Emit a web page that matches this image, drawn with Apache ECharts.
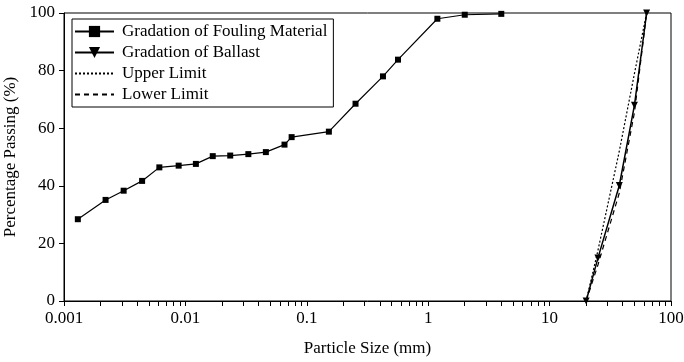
<!DOCTYPE html>
<html>
<head>
<meta charset="utf-8">
<script src="https://cdn.jsdelivr.net/npm/echarts@6/dist/echarts.min.js"></script>
<style>
  html, body { margin: 0; padding: 0; background: #fff; }
  #chart { width: 684px; height: 362px; }
</style>
</head>
<body>
<div id="chart"></div>
<script>
// gradation of fouling material (size in mm, % passing)
const foulingSize = [0.0013, 0.0022, 0.0031, 0.0044, 0.0061, 0.0088, 0.0122, 0.0168, 0.0234, 0.033, 0.046, 0.0655, 0.075, 0.152, 0.252, 0.424, 0.564, 1.19, 2.0, 4.0];
const foulingPass = [28.4, 35.1, 38.3, 41.7, 46.4, 47.0, 47.6, 50.3, 50.5, 51.0, 51.7, 54.3, 56.9, 58.8, 68.5, 78.0, 83.8, 98.0, 99.4, 99.7];

// gradation of ballast
const ballastSize = [20, 25, 37.5, 50, 63];
const ballastPass = [0, 14.9, 40.1, 68.0, 100];

// limits
const upperSize = [20, 25, 37.5, 50, 63];
const upperPass = [0, 17.5, 52, 79, 100];
const lowerSize = [20, 25, 37.5, 50, 63];
const lowerPass = [0, 12.5, 37.5, 65.5, 100];

const xMajorTicks = [0.001, 0.01, 0.1, 1, 10, 100];
const xTickLabels = ['0.001', '0.01', '0.1', '1', '10', '100'];
const yTicks = [0, 20, 40, 60, 80, 100];

// minor ticks of the log axis: 2..9 in each decade
const minorSteps = [2, 3, 4, 5, 6, 7, 8, 9];
const minorTicks = [];
xMajorTicks.slice(0, -1).forEach(d => minorSteps.forEach(s => minorTicks.push(+(d * s).toPrecision(3))));

const pairs = (xs, ys) => xs.map((x, i) => [x, ys[i]]);

const font = "'Liberation Serif', 'Times New Roman', serif";
const black = '#000';

const chart = echarts.init(document.getElementById('chart'));

const option = {
  animation: false,
  textStyle: { fontFamily: font, color: black },
  grid: {
    left: 64, right: 13, top: 13, bottom: 61,
    outerBoundsMode: 'none',
    containLabel: false,
    show: true, borderColor: black, borderWidth: 1
  },
  legend: {
    orient: 'vertical',
    left: 72, top: 19,
    width: 258,
    padding: [4, 6, 4, 2],
    itemWidth: 39,
    itemHeight: 14,
    itemGap: 4,
    borderColor: black,
    borderWidth: 1,
    textStyle: { fontFamily: font, fontSize: 17, color: black, padding: [0, 0, 0, 3] },
    data: ['Gradation of Fouling Material', 'Gradation of Ballast', 'Upper Limit', 'Lower Limit']
  },
  xAxis: {
    type: 'log',
    logBase: 10,
    min: 0.001,
    max: 100,
    name: 'Particle Size (mm)',
    nameLocation: 'middle',
    nameGap: 39,
    nameTextStyle: { fontFamily: font, fontSize: 17, color: black },
    axisLine: { lineStyle: { color: black, width: 1 } },
    axisTick: {
      inside: false, length: 5,
      customValues: xMajorTicks.concat(minorTicks),
      lineStyle: { color: black, width: 1 }
    },
    splitLine: { show: false },
    axisLabel: {
      fontFamily: font, fontSize: 17, color: black, margin: 9,
      customValues: xMajorTicks,
      formatter: v => {
        const i = xMajorTicks.findIndex(t => Math.abs(t - v) / t < 1e-6);
        return i >= 0 ? xTickLabels[i] : '';
      }
    }
  },
  yAxis: {
    type: 'value',
    min: 0,
    max: 100,
    interval: 20,
    name: 'Percentage Passing (%)',
    nameLocation: 'middle',
    nameGap: 43,
    nameTextStyle: { fontFamily: font, fontSize: 17, color: black },
    axisLine: { show: true, lineStyle: { color: black, width: 1 } },
    axisTick: { show: true, inside: false, length: 5, lineStyle: { color: black } },
    splitLine: { show: false },
    axisLabel: {
      fontFamily: font, fontSize: 17, color: black, margin: 9,
      formatter: v => yTicks.includes(v) ? String(v) : ''
    }
  },
  series: [
    {
      name: 'Gradation of Fouling Material',
      type: 'line',
      data: pairs(foulingSize, foulingPass),
      symbol: 'rect',
      symbolSize: 6,
      itemStyle: { color: black },
      lineStyle: { color: black, width: 1.2 }
    },
    {
      name: 'Gradation of Ballast',
      type: 'line',
      data: pairs(ballastSize, ballastPass),
      symbol: 'triangle',
      symbolRotate: 180,
      symbolSize: 7,
      itemStyle: { color: black },
      lineStyle: { color: black, width: 1.5 },
      z: 4
    },
    {
      name: 'Upper Limit',
      type: 'line',
      data: pairs(upperSize, upperPass),
      showSymbol: false,
      itemStyle: { color: black, opacity: 0 },
      lineStyle: { color: black, width: 1.2, type: [2, 2], opacity: 1 }
    },
    {
      name: 'Lower Limit',
      type: 'line',
      data: pairs(lowerSize, lowerPass),
      showSymbol: false,
      itemStyle: { color: black, opacity: 0 },
      lineStyle: { color: black, width: 1.2, type: [5, 4], opacity: 1 }
    }
  ]
};

chart.setOption(option);
</script>
</body>
</html>
